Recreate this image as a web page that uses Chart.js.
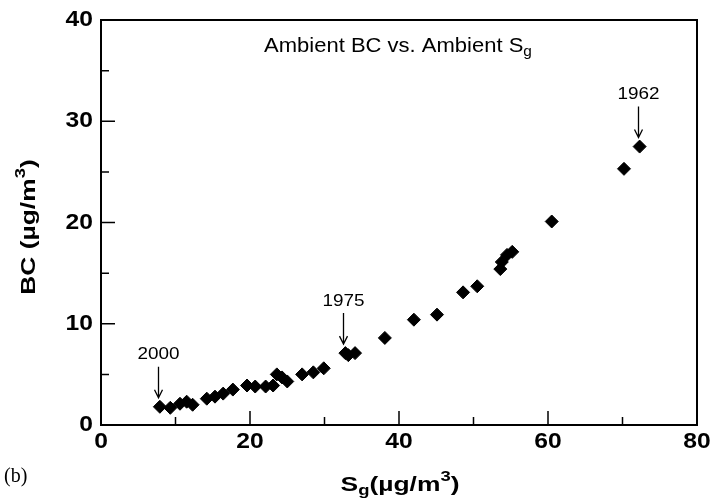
<!DOCTYPE html>
<html>
<head>
<meta charset="utf-8">
<script src="https://cdn.jsdelivr.net/npm/chart.js@4/dist/chart.umd.min.js"></script>
<style>
  body { margin: 0; background: #fff; }
  canvas { display: block; }
</style>
</head>
<body>
<canvas id="bcChart" width="710" height="499"></canvas>
<script>
// ambient Sg (x) and BC (y), both in ug/m3
const sgValues = [7.9, 9.3, 10.6, 11.5, 12.3, 14.2, 15.3, 16.4, 17.7, 19.6, 20.7, 22.1, 23.1, 23.6, 24.3, 25.0,
  27.0, 28.5, 29.9, 32.8, 33.2, 34.1, 38.1, 42.0, 45.1, 48.6, 50.5, 53.6, 53.8, 54.5, 55.2, 60.5, 70.2, 72.3]
const bcValues = [1.8, 1.7, 2.1, 2.3, 2.0, 2.6, 2.8, 3.1, 3.5, 3.9, 3.8, 3.8, 3.9, 5.0, 4.7, 4.3,
  5.0, 5.2, 5.6, 7.1, 6.9, 7.1, 8.6, 10.4, 10.9, 13.1, 13.7, 15.4, 16.1, 16.8, 17.1, 20.1, 25.3, 27.5]

// years marked with an arrow, and which point each one belongs to
const yearLabels = ['2000', '1975', '1962']
const yearPoints = [0, 19, 33]

const xTicks = [0, 20, 40, 60, 80]
const yTicks = [0, 10, 20, 30, 40]

const points = sgValues.map((x, i) => ({ x: x, y: bcValues[i] }))

const sans = '"Liberation Sans", Arial, Helvetica, sans-serif'

// text with sub/superscript pieces, widened by sx: parts = [[text, 'n'|'sub'|'sup'], ...]
function richText(ctx, parts, x, y, size, weight, align, sx) {
  const fontFor = p => weight + ' ' + (p[1] === 'n' ? size : Math.round(size * 0.7)) + 'px ' + sans
  const widths = parts.map(p => {
    ctx.font = fontFor(p)
    return ctx.measureText(p[0]).width
  })
  const total = widths.reduce((a, b) => a + b, 0) * sx
  let cx = 0
  if (align === 'center') cx = -total / 2
  if (align === 'right') cx = -total
  ctx.save()
  ctx.translate(x, y)
  ctx.scale(sx, 1)
  cx /= sx
  ctx.textAlign = 'left'
  ctx.textBaseline = 'middle'
  parts.forEach((p, i) => {
    let dy = 0
    if (p[1] === 'sub') dy = size * 0.32
    if (p[1] === 'sup') dy = -size * 0.38
    ctx.font = fontFor(p)
    ctx.fillText(p[0], cx, dy)
    cx += widths[i]
  })
  ctx.restore()
}

const framePlugin = {
  id: 'frame',
  afterDraw(chart) {
    const ctx = chart.ctx
    const a = chart.chartArea
    const xs = chart.scales.x
    const ys = chart.scales.y
    ctx.save()
    ctx.strokeStyle = '#000'
    ctx.fillStyle = '#000'

    // box round the plot
    ctx.lineWidth = 2
    ctx.strokeRect(a.left, a.top, a.right - a.left, a.bottom - a.top)

    // inward tick marks, long at labelled values
    ctx.lineWidth = 1.5
    ctx.beginPath()
    xs.ticks.forEach(t => {
      if (t.value === xs.min || t.value === xs.max) return
      const px = xs.getPixelForValue(t.value)
      const len = xTicks.includes(t.value) ? 14 : 8
      ctx.moveTo(px, a.bottom)
      ctx.lineTo(px, a.bottom - len)
    })
    ys.ticks.forEach(t => {
      if (t.value === ys.min || t.value === ys.max) return
      const py = ys.getPixelForValue(t.value)
      const len = yTicks.includes(t.value) ? 14 : 8
      ctx.moveTo(a.left, py)
      ctx.lineTo(a.left + len, py)
    })
    ctx.stroke()

    // tick labels
    xTicks.forEach(v => {
      richText(ctx, [[String(v), 'n']], xs.getPixelForValue(v), a.bottom + 17, 22, 'bold', 'center', 1.12)
    })
    yTicks.forEach(v => {
      richText(ctx, [[String(v), 'n']], a.left - 8, ys.getPixelForValue(v), 22, 'bold', 'right', 1.12)
    })

    // year arrows
    ctx.lineWidth = 1.3
    yearLabels.forEach((label, i) => {
      const p = points[yearPoints[i]]
      const px = Math.round(xs.getPixelForValue(p.x)) - 1.5
      const py = ys.getPixelForValue(p.y)
      richText(ctx, [[label, 'n']], px, py - 52, 16, 'normal', 'center', 1.18)
      ctx.beginPath()
      ctx.moveTo(px, py - 40)
      ctx.lineTo(px, py - 9)
      ctx.moveTo(px - 4, py - 17)
      ctx.lineTo(px, py - 9)
      ctx.lineTo(px + 4, py - 17)
      ctx.stroke()
    })

    // titles
    richText(ctx, [['Ambient BC vs. Ambient S', 'n'], ['g', 'sub']], 398, 46, 20, 'normal', 'center', 1.1)
    richText(ctx, [['S', 'n'], ['g', 'sub'], ['(µg/m', 'n'], ['3', 'sup'], [')', 'n']], 400, 485, 20, 'bold', 'center', 1.32)
    ctx.save()
    ctx.translate(29, 227)
    ctx.rotate(-Math.PI / 2)
    richText(ctx, [['BC (µg/m', 'n'], ['3', 'sup'], [')', 'n']], 0, 0, 20, 'bold', 'center', 1.32)
    ctx.restore()

    ctx.font = '20px "Liberation Serif", "Times New Roman", serif'
    ctx.textAlign = 'left'
    ctx.textBaseline = 'middle'
    ctx.fillText('(b)', 4, 477)
    ctx.restore()
  }
}

new Chart(document.getElementById('bcChart'), {
  type: 'scatter',
  data: {
    datasets: [{
      data: points,
      pointStyle: 'rectRot',
      pointRadius: 6.5,
      pointBackgroundColor: '#000',
      pointBorderColor: '#000',
      pointBorderWidth: 1
    }]
  },
  options: {
    responsive: false,
    animation: false,
    layout: { padding: { top: 20, right: 13, left: 0, bottom: 0 } },
    plugins: { legend: { display: false }, tooltip: { enabled: false } },
    scales: {
      x: {
        type: 'linear',
        min: 0,
        max: 80,
        grid: { display: false, drawTicks: false },
        border: { display: false },
        afterFit(scale) { scale.height = 74 },
        ticks: { stepSize: 10, display: false }
      },
      y: {
        type: 'linear',
        min: 0,
        max: 40,
        grid: { display: false, drawTicks: false },
        border: { display: false },
        afterFit(scale) { scale.width = 101 },
        ticks: { stepSize: 5, display: false }
      }
    }
  },
  plugins: [framePlugin]
})
</script>
</body>
</html>
